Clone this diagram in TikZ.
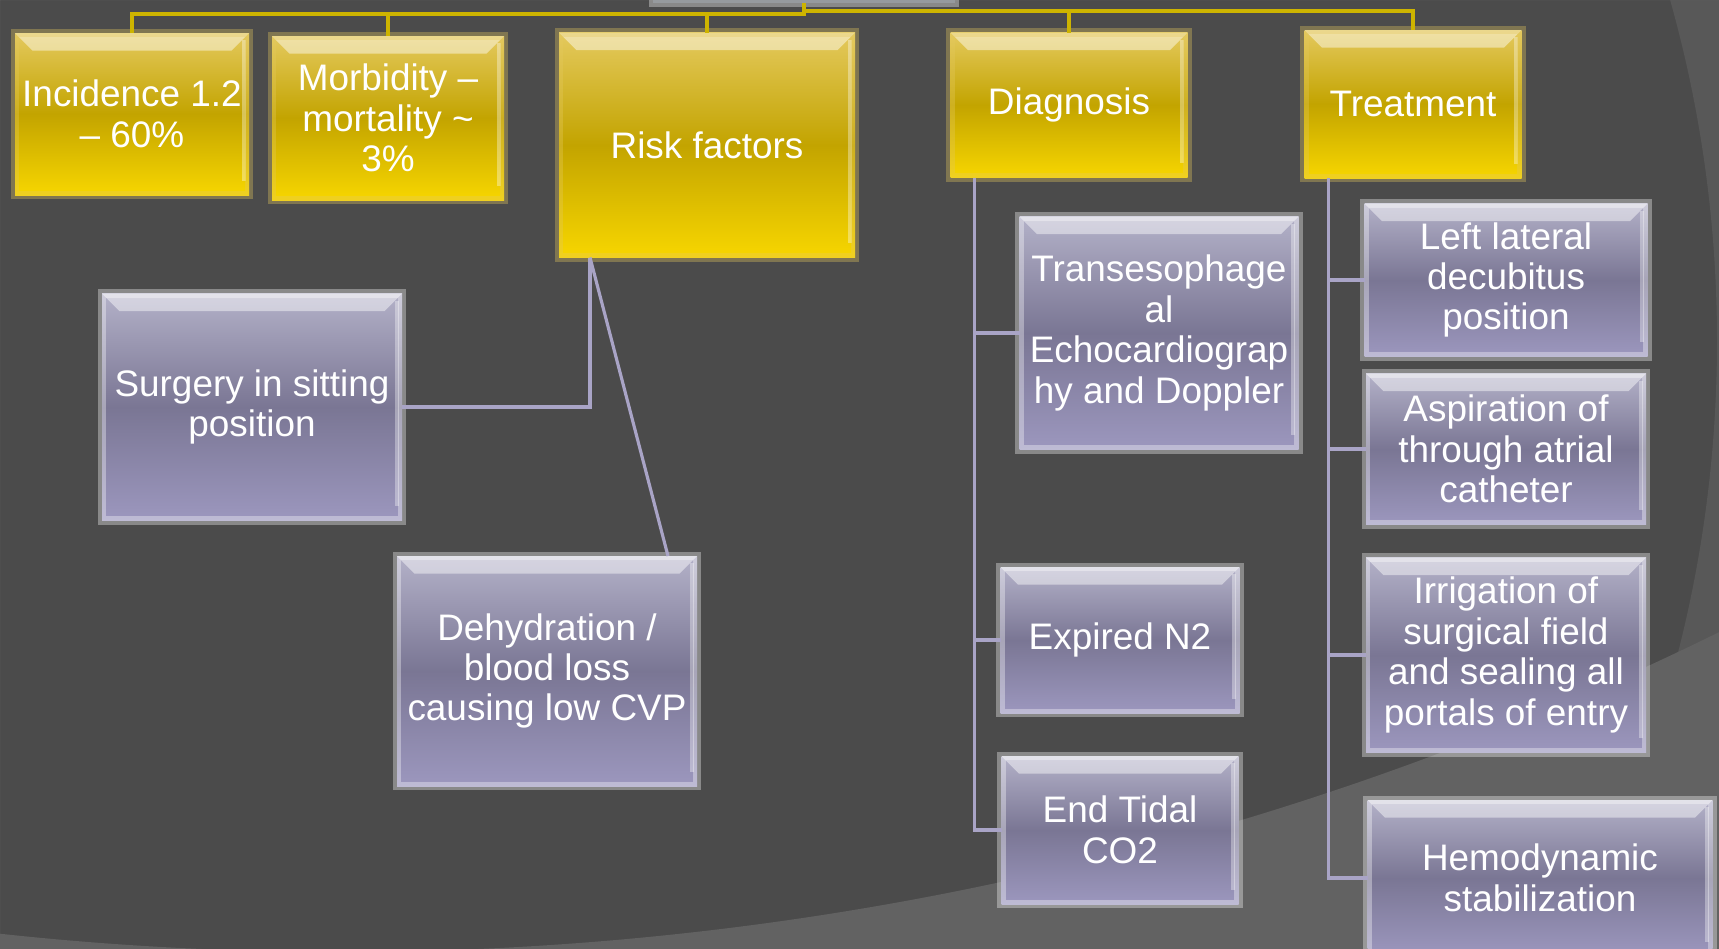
\documentclass[tikz,border=0pt]{standalone}
\usepackage{fontspec}
\setmainfont{Liberation Sans}
\usepackage{tikz}
\usetikzlibrary{positioning,calc}
\definecolor{fundo}{HTML}{4B4B4B}
\definecolor{fundoclaro}{HTML}{585858}
\definecolor{fundobaixo}{HTML}{626262}
\definecolor{ouro}{HTML}{CDB400}
\definecolor{ourotopo}{HTML}{E4C95E}
\definecolor{ouromeio}{HTML}{C3A400}
\definecolor{ourobase}{HTML}{F7D600}
\definecolor{lilas}{HTML}{A9A4C6}
\definecolor{lilastopo}{HTML}{B3B1C8}
\definecolor{lilasmeio}{HTML}{7A7694}
\definecolor{lilasbase}{HTML}{9C97BE}
\definecolor{raiz}{HTML}{5E646B}
\tikzset{
    caixa/.style={
        rectangle,
        inner sep=1pt,
        outer sep=0pt,
        align=center,
        text=white,
        line width=2.5pt,
        draw opacity=.35,
        path picture={
            \fill[white, opacity=.45]
                (path picture bounding box.north west) --
                (path picture bounding box.north east) --
                ([xshift=-5pt,yshift=-5pt]path picture bounding box.north east) --
                ([xshift=5pt,yshift=-5pt]path picture bounding box.north west) -- cycle;
            \draw[white, line width=1.2pt]
                ([xshift=-1.5pt,yshift=-2pt]path picture bounding box.north east) --
                ([xshift=-1.5pt,yshift=4pt]path picture bounding box.south east);
        }
    },
    categoria/.style={caixa, draw=ourotopo, top color=ourotopo, bottom color=ourobase, middle color=ouromeio},
    item/.style={caixa, draw=white, top color=lilastopo, bottom color=lilasbase, middle color=lilasmeio},
    ligacao/.style={draw=ouro, line width=1.1pt},
    ramo/.style={draw=lilas, line width=.9pt}
}

\begin{document}
\begin{tikzpicture}[node distance=0.2cm, font=\fontsize{10.5}{11.5}\selectfont]
        \useasboundingbox (0,0) rectangle (17.19,-9.49);
        \clip (0,0) rectangle (17.19,-9.49);
        \fill[fundo] (0,0) rectangle (17.19,-9.49);
        \fill[fundoclaro, even odd rule] (0,0) rectangle (17.19,-9.49) (4.62,-3.41) circle (12.55);
        \fill[fundobaixo, even odd rule] (0,0) rectangle (17.19,-9.49) (3.40,21.74) circle (31.26);

        \node[caixa, draw=white, fill=raiz, minimum width=3.02cm, minimum height=0.6cm] (raiz) at (8.04,0.27) {};

        \node[categoria, minimum width=2.34cm, minimum height=1.62cm] (incidencia) at (1.32,-1.14)
            {Incidence 1.2\\– 60\%};
        \node[categoria, minimum width=2.32cm, minimum height=1.64cm] (morbidade) at (3.88,-1.18)
            {Morbidity –\\mortality \textasciitilde\\3\%};
        \node[categoria, minimum width=2.96cm, minimum height=2.25cm] (risco) at (7.07,-1.45)
            {Risk factors};
        \node[categoria, minimum width=2.37cm, minimum height=1.45cm] (diagnostico) at (10.69,-1.05)
            {Diagnosis};
        \node[categoria, minimum width=2.17cm, minimum height=1.48cm] (tratamento) at (14.13,-1.04)
            {Treatment};

        \node[item, minimum width=3.00cm, minimum height=2.27cm] (sentado) at (2.52,-4.07)
            {Surgery in sitting\\position};
        \node[item, minimum width=3.00cm, minimum height=2.30cm] (desidratacao) at (5.47,-6.71)
            {Dehydration /\\blood loss\\causing low CVP};

        \node[item, minimum width=2.79cm, minimum height=2.33cm] (eco) at (11.59,-3.33)
            {Transesophage\\al\\Echocardiograp\\hy and Doppler};
        \node[item, minimum width=2.39cm, minimum height=1.46cm] (nitrogenio) at (11.20,-6.40)
            {Expired N2};
        \node[item, below=0.43cm of nitrogenio, minimum width=2.37cm, minimum height=1.48cm] (capnografia)
            {End Tidal\\CO2};

        \node[item, minimum width=2.83cm, minimum height=1.53cm] (decubito) at (15.06,-2.80)
            {Left lateral\\decubitus\\position};
        \node[item, below=0.17cm of decubito, minimum width=2.80cm, minimum height=1.51cm] (aspiracao)
            {Aspiration of\\through atrial\\catheter};
        \node[item, below=0.33cm of aspiracao, minimum width=2.80cm, minimum height=1.95cm] (irrigacao)
            {Irrigation of\\surgical field\\and sealing all\\portals of entry};
        \node[item, minimum width=3.45cm, minimum height=1.56cm] (hemodinamica) at (15.40,-8.78)
            {Hemodynamic\\stabilization};

        \draw[ligacao] (raiz.south) -- ++(0,-0.11) -| (incidencia.north);
        \draw[ligacao] (raiz.south) -- ++(0,-0.11) -| (morbidade.north);
        \draw[ligacao] (raiz.south) -- ++(0,-0.11) -| (risco.north);
        \draw[ligacao] (raiz.south) -- ++(0,-0.08) -| (diagnostico.north);
        \draw[ligacao] (raiz.south) -- ++(0,-0.08) -| (tratamento.north);

        \coordinate (risco-pe) at ($(risco.south west)+(0.31,0)$);
        \coordinate (desid-topo) at ($(desidratacao.north east)+(-0.29,0)$);
        \draw[ramo] (risco-pe) |- (sentado.east);
        \draw[ramo] (risco-pe) -- (desid-topo);

        \coordinate (diag-pe) at ($(diagnostico.south west)+(0.24,0)$);
        \draw[ramo] (diag-pe) |- (eco.west);
        \draw[ramo] (diag-pe) |- (nitrogenio.west);
        \draw[ramo] (diag-pe) |- (capnografia.west);

        \coordinate (trat-pe) at ($(tratamento.south west)+(0.24,0)$);
        \draw[ramo] (trat-pe) |- (decubito.west);
        \draw[ramo] (trat-pe) |- (aspiracao.west);
        \draw[ramo] (trat-pe) |- (irrigacao.west);
        \draw[ramo] (trat-pe) |- (hemodinamica.west);
    \end{tikzpicture}
\end{document}
